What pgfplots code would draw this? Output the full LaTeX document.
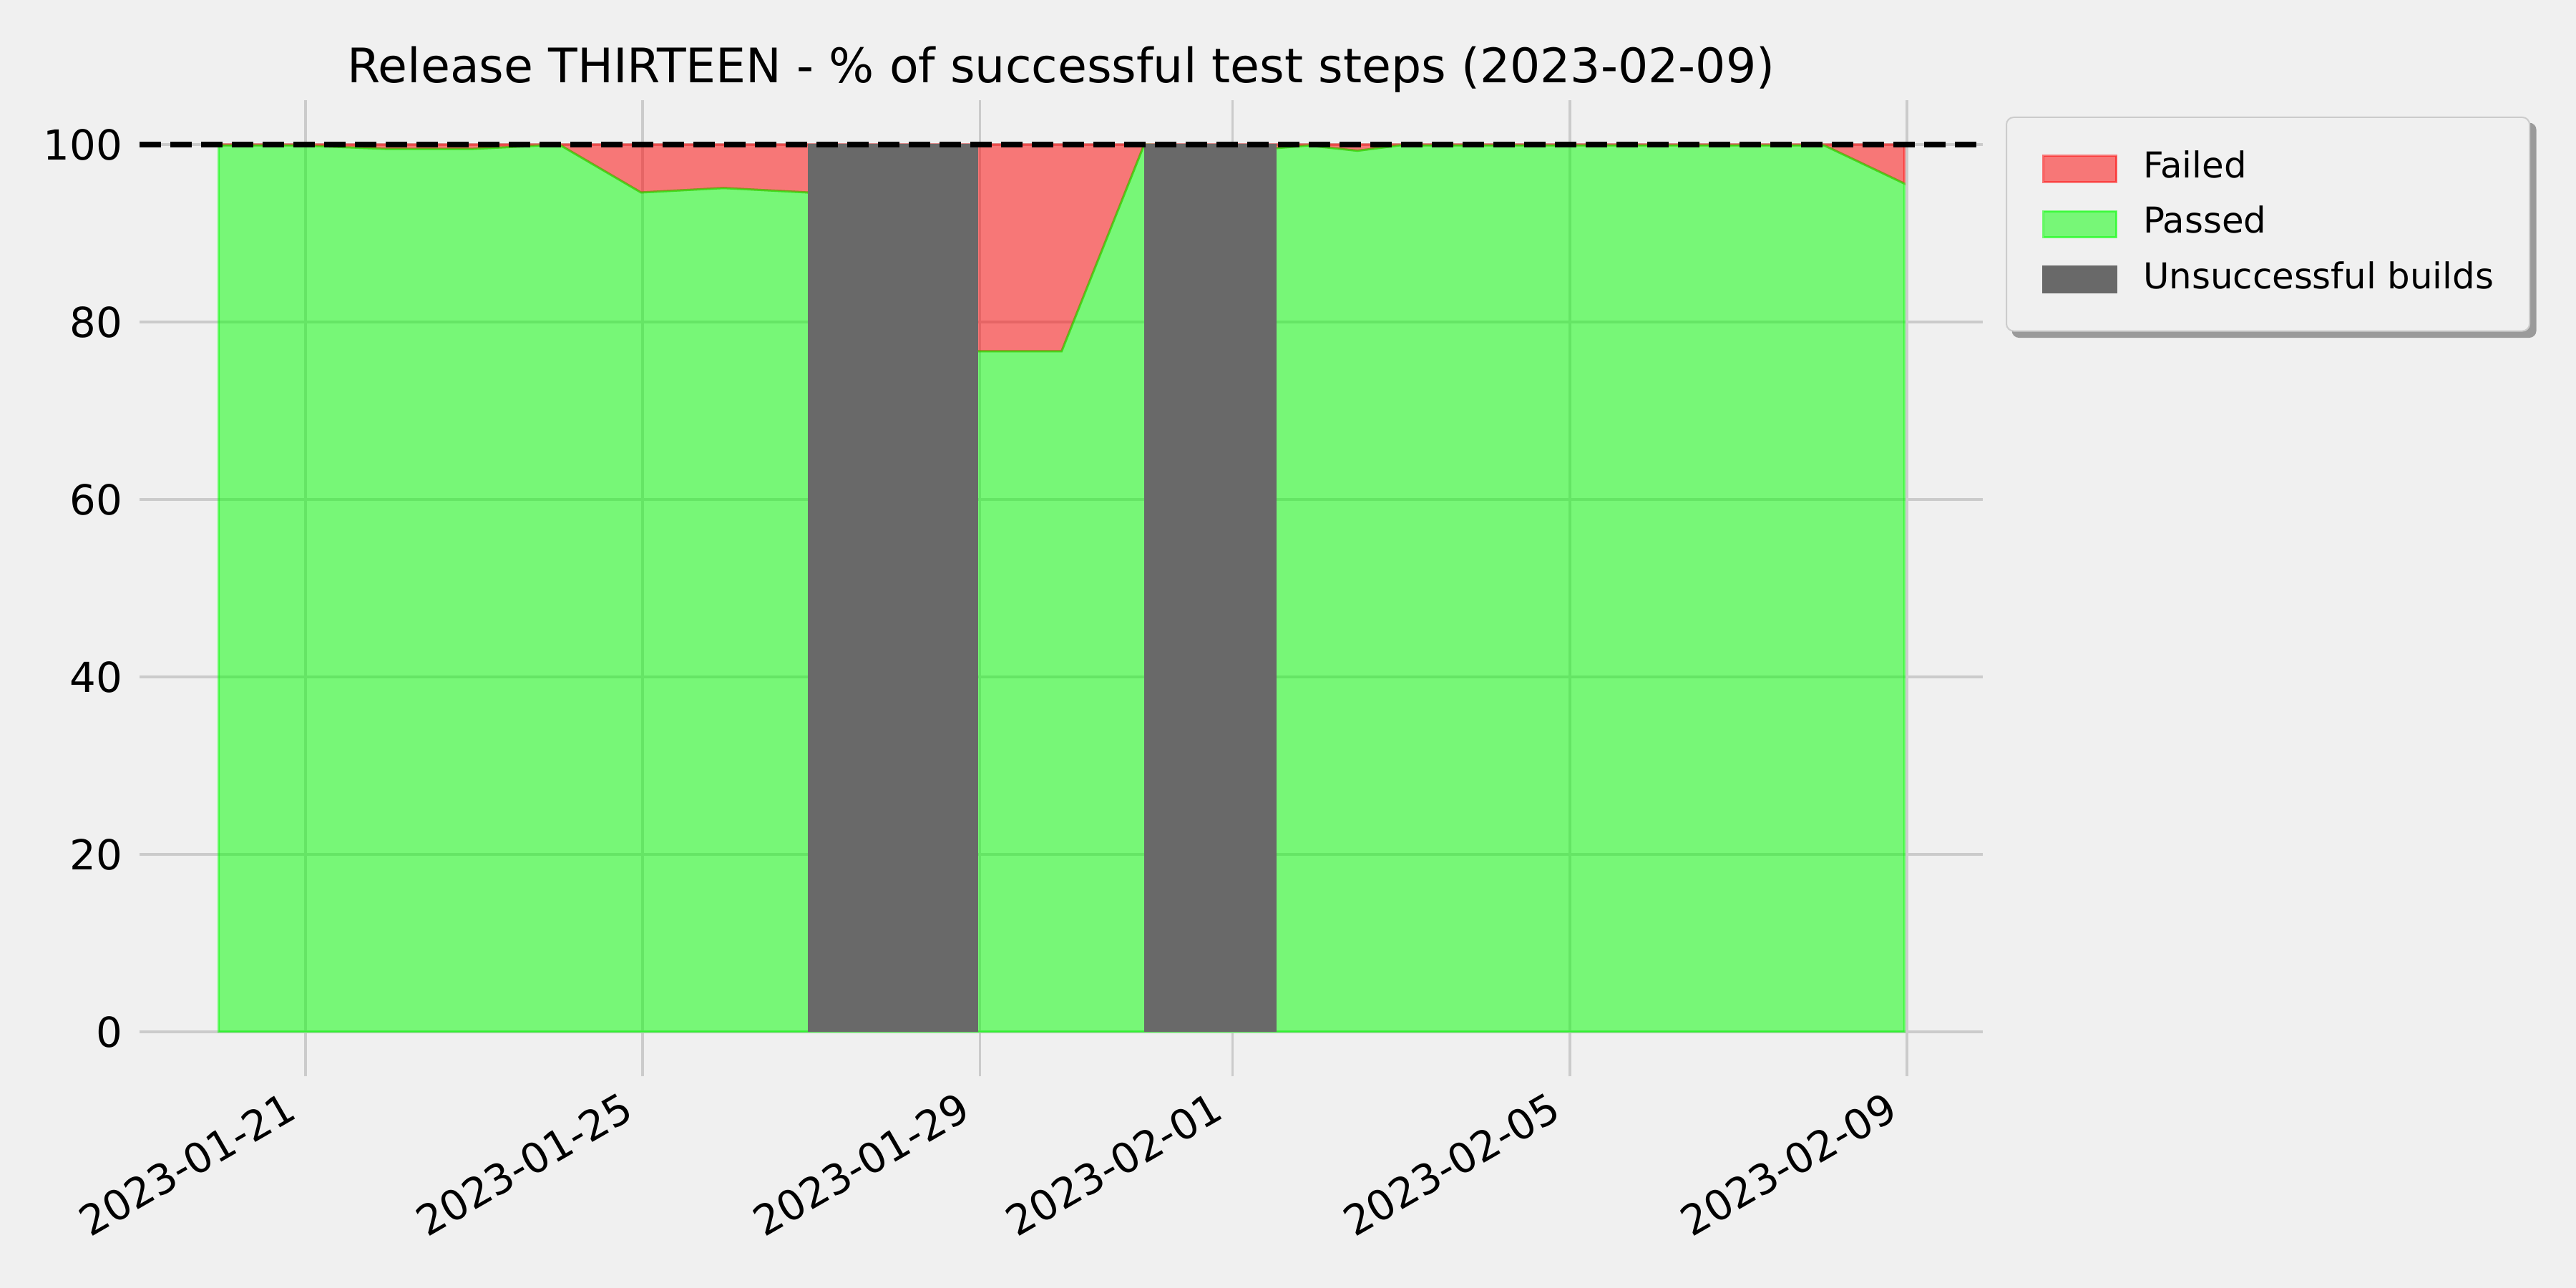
\documentclass[border=0pt]{standalone}
\usepackage{pgfplots}
\pgfplotsset{compat=1.18}
\usetikzlibrary{backgrounds}
\usepackage{fontspec}
\setmainfont{DejaVu Sans}
\definecolor{bgcol}{HTML}{F0F0F0}
\definecolor{gridcol}{HTML}{CBCBCB}
\definecolor{dimgray}{HTML}{696969}
\definecolor{lime}{HTML}{00FF00}
\definecolor{pured}{HTML}{FF0000}
\definecolor{legedge}{HTML}{CCCCCC}
\definecolor{shadowcol}{HTML}{9A9A9A}
\begin{document}
\begin{tikzpicture}
\begin{axis}[
    at={(39bp,59.2bp)}, anchor=south west,
    scale only axis, width=515.2bp, height=272.8bp,
    xmin=-0.97, xmax=20.9, ymin=-5, ymax=105,
    xtick={1,5,9,12,16,20},
    xticklabels={2023-01-21,2023-01-25,2023-01-29,2023-02-01,2023-02-05,2023-02-09},
    ytick={0,20,40,60,80,100},
    grid=major,
    major grid style={gridcol, line width=0.7bp},
    axis line style={draw=none},
    major tick length=0pt,
    tick label style={font=\fontsize{11.6}{14}\selectfont},
    /pgf/number format/assume math mode=true,
    x tick label style={xshift=-6.2bp, yshift=-3.8bp, rotate=30, anchor=north east, inner sep=0pt},
    y tick label style={inner sep=0pt, xshift=-4.6bp},
    title={Release THIRTEEN - \% of successful test steps (2023-02-09)},
    title style={font=\fontsize{13.35}{16}\selectfont, anchor=base, yshift=-1bp},
    legend cell align=left,
    legend image code/.code={\draw[#1, sharp corners, line width=0.6bp] (0bp,-3.65bp) rectangle (20.4bp,3.65bp);},
    legend style={name=leg, at={(1,1)}, anchor=north west, xshift=6.4bp, yshift=-4.6bp,
        fill=bgcol, draw=legedge, line width=0.4bp, rounded corners=2bp,
        inner xsep=10bp, inner ysep=9.3bp, row sep=5.3bp, column sep=7.2bp,
        font=\fontsize{10}{12}\selectfont, nodes={inner sep=0pt, text depth=2.6bp}},
]
% failed: from the passed line up to 100 %
\addplot[fill=pured, fill opacity=0.5, draw=pured, draw opacity=0.5, line width=0.6bp] coordinates {
    (-0.03,99.9) (0.97,99.9) (1.98,99.5) (2.96,99.5) (4.01,100) (4.98,94.6) (5.96,95.1) (6.96,94.6)
    (8.98,76.7) (9.97,76.7) (10.95,100)
    (12.52,99.6) (12.9,99.9) (13.48,99.3) (13.97,99.9) (14.97,99.9) (15.97,99.9)
    (16.97,99.9) (17.97,99.9) (19.02,99.9) (19.97,95.6)
    (19.97,100) (-0.03,100) (-0.03,99.9)
};
\addlegendentry{Failed}

% passed
\addplot[fill=lime, fill opacity=0.5, draw=lime, draw opacity=0.5, line width=0.6bp] coordinates {
    (-0.03,99.9) (0.97,99.9) (1.98,99.5) (2.96,99.5) (4.01,100) (4.98,94.6) (5.96,95.1) (6.96,94.6)
    (8.98,76.7) (9.97,76.7) (10.95,100)
    (12.52,99.6) (12.9,99.9) (13.48,99.3) (13.97,99.9) (14.97,99.9) (15.97,99.9)
    (16.97,99.9) (17.97,99.9) (19.02,99.9) (19.97,95.6)
} \closedcycle;
\addlegendentry{Passed}

% unsuccessful builds
\addplot[fill=dimgray, draw=dimgray, line width=0pt] coordinates {(6.96,100) (8.98,100)} \closedcycle;
\addlegendentry{Unsuccessful builds}
\addplot[fill=dimgray, draw=dimgray, line width=0pt, forget plot] coordinates {(10.95,100) (12.52,100)} \closedcycle;

\addplot[black, line width=1.5bp, dash pattern=on 6bp off 2.6bp, forget plot]
    coordinates {(-0.97,100) (20.9,100)};
\end{axis}
\begin{scope}[on background layer]
\fill[bgcol] (0,0) rectangle (720bp,360bp);
\fill[shadowcol, rounded corners=2bp] ([xshift=1.7bp,yshift=-1.7bp]leg.south west)
    rectangle ([xshift=1.7bp,yshift=-1.7bp]leg.north east);
\end{scope}
\pgfresetboundingbox
\path[use as bounding box] (0,0) rectangle (720bp,360bp);
\end{tikzpicture}
\end{document}
